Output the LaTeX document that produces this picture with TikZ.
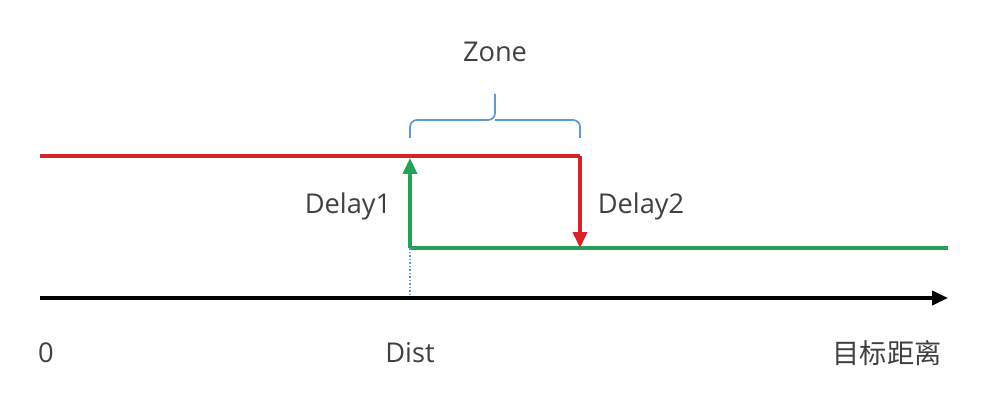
\documentclass[tikz,border=0pt]{standalone}
\usepackage{fontspec}
\setmainfont{Open Sans}
\newfontfamily\cjk{Noto Sans CJK SC}
\usetikzlibrary{arrows.meta}
\definecolor{delayred}{RGB}{212,36,40}
\definecolor{delaygreen}{RGB}{38,160,88}
\definecolor{zoneblue}{RGB}{91,155,213}
\definecolor{labelgray}{RGB}{64,64,64}
\tikzset{
  lbl/.style={text=labelgray,font=\fontsize{15.5}{18}\selectfont,inner sep=0pt},
  sig/.style={line width=1.8pt},
}

\begin{document}
\begin{tikzpicture}[x=0.02cm,y=-0.02cm]
            \useasboundingbox (0,0) rectangle (1008,405);
            % points
            \coordinate (r0) at (40,156); \coordinate (r1) at (580,156);
            \coordinate (g0) at (410,248); \coordinate (g1) at (948,248);
            \coordinate (a0) at (40,298); \coordinate (a1) at (948,298);
            \coordinate (d1) at (410,158); \coordinate (d2) at (580,248);
            \coordinate (dx) at (410,298);
            \draw[sig,color=delayred] (r0) -- (r1);
            \draw[sig,color=delaygreen] (g0) -- (g1);
            \draw[sig,color=delaygreen,-{Triangle[length=9pt,width=8pt]}] (g0) -- (d1);
            \draw[sig,color=delayred,-{Triangle[length=9pt,width=8pt]}] (r1) -- (d2);
            \draw[color=zoneblue,line width=1pt,densely dotted] (g0) -- (dx);
            \draw[line width=1.8pt,-{Triangle[length=9pt,width=8pt]}] (a0) -- (a1);
            % zone brace
            \draw[color=zoneblue,line width=1pt,rounded corners=4pt] (410,138) |- (495,120) -- (495,94);
            \draw[color=zoneblue,line width=1pt,rounded corners=4pt] (580,138) |- (495,120);
            \node[lbl] (zone) at (495,52) {Zone};
            \node[lbl] (delay1) at (348,206) {Delay1};
            \node[lbl] (delay2) at (641,206) {Delay2};
            \node[lbl] (zero) at (46,353) {0};
            \node[lbl] (dist) at (410,353) {Dist};
            \node[lbl,font=\cjk\fontsize{15.5}{18}\selectfont] (target) at (887,353) {目标距离};
        \end{tikzpicture}
\end{document}
